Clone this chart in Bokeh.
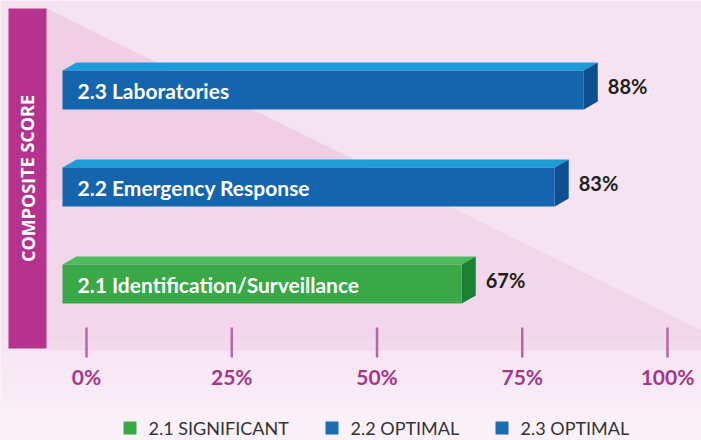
from bokeh.plotting import figure
from bokeh.models import Range1d
from bokeh.core.properties import value
from bokeh.embed import file_html
from bokeh.resources import INLINE

# ---- data ----
categories = ["2.1 Identification/Surveillance", "2.2 Emergency Response", "2.3 Laboratories"]
values = [67, 83, 88]
front_colors = ["#3aa847", "#1565ae", "#1565ae"]
top_colors = ["#4dba5b", "#1c9cd8", "#1c9cd8"]
side_colors = ["#1d8038", "#0e4f90", "#0e4f90"]
tick_values = [0, 25, 50, 75, 100]
tick_labels = ["0%", "25%", "50%", "75%", "100%"]
legend_labels = ["2.1 SIGNIFICANT", "2.2 OPTIMAL", "2.3 OPTIMAL"]
legend_colors = ["#3aaa48", "#1a6db3", "#1a6db3"]
axis_title = "COMPOSITE SCORE"

# ---- layout helpers (pixels -> data units) ----
W, H = 701, 440
PX0 = 86.0      # x pixel of 0%
PPU = 5.81      # pixels per percent

def dx(px):
    return (px - PX0) / PPU

def dy(py):
    return H - py

p = figure(width=W, height=H, output_backend="svg", toolbar_location=None,
           x_range=Range1d(dx(0), dx(W)), y_range=Range1d(0, H),
           min_border=0, min_border_left=0, min_border_right=0,
           min_border_top=0, min_border_bottom=0)
p.axis.visible = False
p.xgrid.visible = False
p.ygrid.visible = False
p.outline_line_color = None
p.background_fill_color = "#f6e3f1"
p.border_fill_color = "#f6e3f1"

# background shading
p.patch([dx(46), dx(W), dx(W), dx(46)], [dy(8), dy(330), dy(350), dy(350)],
        fill_color="#edc6e2", fill_alpha=0.45, line_color=None)
p.patch([dx(46), dx(360), dx(46)], [dy(8), dy(162), dy(200)],
        fill_color="#ebbfdf", fill_alpha=0.35, line_color=None)
# soft fade towards the bottom
for k in range(9):
    y0 = 340 + k * 10
    p.quad(left=[dx(0)], right=[dx(W)], bottom=[dy(y0 + 10)], top=[dy(y0)],
           fill_color="#fcf3fa", fill_alpha=0.12 + 0.09 * k, line_color=None)
p.quad(left=[dx(0)], right=[dx(W)], bottom=[dy(H)], top=[dy(430)],
       fill_color="#fcf3fa", fill_alpha=0.9, line_color=None)

# purple title bar
p.quad(left=[dx(8)], right=[dx(46)], bottom=[dy(348)], top=[dy(8)],
       fill_color="#b5338e", line_color=None)
p.text(x=[dx(27)], y=[dy(178)], text=[axis_title], angle=1.5708,
       text_align="center", text_baseline="middle", text_color="white",
       text_font=value("Open Sans"), text_font_style="bold", text_font_size="18px")

# 3D bars
bar_left = dx(62)
depth_x = 14 / PPU
depth_y = 8
bar_h = 39
for i, (cat, v) in enumerate(zip(categories, values)):
    cy = dy(283.5 - 97 * i)
    bot = cy - bar_h / 2
    top = cy + bar_h / 2
    xr = v - depth_x
    # top face
    p.patch([bar_left, bar_left + depth_x, v, xr],
            [top, top + depth_y, top + depth_y, top],
            fill_color=top_colors[i], line_color=None)
    # side face
    p.patch([xr, v, v, xr], [top, top + depth_y, bot + depth_y, bot],
            fill_color=side_colors[i], line_color=None)
    # front face
    p.quad(left=[bar_left], right=[xr], bottom=[bot], top=[top],
           fill_color=front_colors[i], line_color=None)
    # category label
    p.text(x=[bar_left + 15 / PPU], y=[cy], text=[cat], text_align="left",
           text_baseline="middle", text_color="white",
           text_font=value("Lato"), text_font_style="bold", text_font_size="21px")
    # value label
    p.text(x=[v + 10 / PPU], y=[cy + 4], text=[f"{v}%"], text_align="left",
           text_baseline="middle", text_color="#231f20",
           text_font=value("Lato"), text_font_style="bold", text_font_size="20px")

# tick marks and labels
p.segment(x0=tick_values, y0=[dy(327)] * len(tick_values),
          x1=tick_values, y1=[dy(357)] * len(tick_values),
          line_color="#b468a6", line_width=2.5)
p.text(x=tick_values, y=[dy(376)] * len(tick_values), text=tick_labels,
       text_align="center", text_baseline="middle", text_color="#a4368c",
       text_font=value("Lato"), text_font_style="bold", text_font_size="21px")

# legend (manual)
leg_sq_px = [123, 325, 495]
for lx, lab, col in zip(leg_sq_px, legend_labels, legend_colors):
    p.quad(left=[dx(lx)], right=[dx(lx + 13)], bottom=[dy(434)], top=[dy(421)],
           fill_color=col, line_color=None)
    p.text(x=[dx(lx + 25)], y=[dy(427)], text=[lab], text_align="left",
           text_baseline="middle", text_color="#333333",
           text_font=value("Lato"), text_font_size="18px")

open("out.html", "w").write(file_html(p, INLINE))
